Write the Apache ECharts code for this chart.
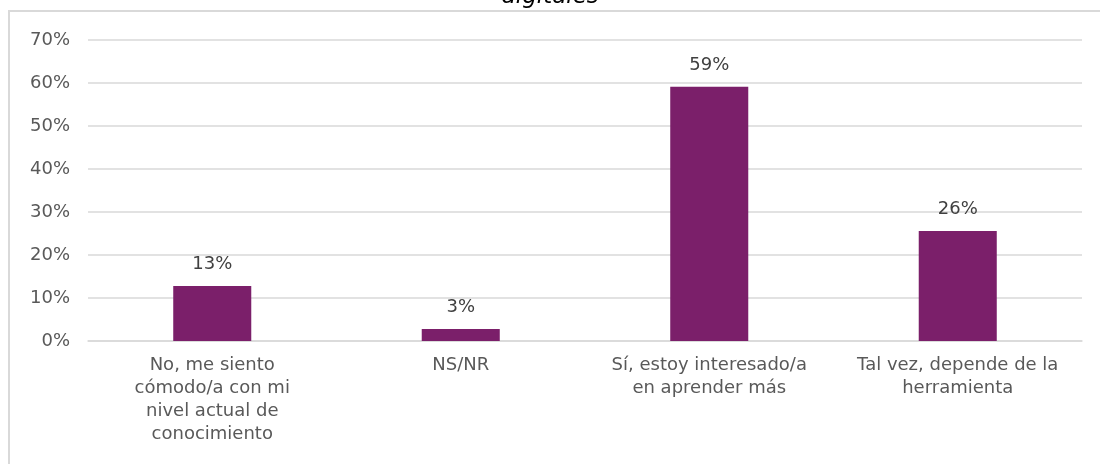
<!DOCTYPE html>
<html>
<head>
<meta charset="utf-8">
<script src="https://cdn.jsdelivr.net/npm/echarts@6/dist/echarts.min.js"></script>
<style>
html,body{margin:0;padding:0;background:#fff;overflow:hidden;}
#wrap{position:relative;width:1100px;height:464px;overflow:hidden;}
#chart{width:1100px;height:464px;}
#frame{position:absolute;left:8px;top:10px;width:1200px;height:600px;border-left:2px solid #d9d9d9;border-top:2px solid #d9d9d9;pointer-events:none;}
</style>
</head>
<body>
<div id="wrap">
<div id="chart"></div>
<div id="frame"></div>
</div>
<script>
const categories = [
  "No, me siento\ncómodo/a con mi\nnivel actual de\nconocimiento",
  "NS/NR",
  "Sí, estoy interesado/a\nen aprender más",
  "Tal vez, depende de la\nherramienta"
];
const values = [12.8, 2.8, 59.1, 25.6];
const yTicks = { min: 0, max: 70, interval: 10 };
const titleTail = "digitales";

const chart = echarts.init(document.getElementById('chart'), null, { renderer: 'canvas' });
const FONT = '"DejaVu Sans", sans-serif';
chart.setOption({
  backgroundColor: '#ffffff',
  animation: false,
  graphic: [
    { type: 'text', left: 'center', top: -14, style: { text: titleTail, fontFamily: FONT, fontStyle: 'italic', fontSize: 23, fill: '#000000' } }
  ],
  grid: { left: 88, right: 18, top: 40, bottom: 123, containLabel: false },
  xAxis: {
    type: 'category',
    data: categories,
    axisLine: { lineStyle: { color: '#d9d9d9', width: 1.5 } },
    axisTick: { show: false },
    axisLabel: { color: '#595959', fontSize: 18, fontFamily: FONT, lineHeight: 23, margin: 13, interval: 0 }
  },
  yAxis: {
    type: 'value',
    min: yTicks.min, max: yTicks.max, interval: yTicks.interval,
    axisLine: { show: false },
    axisTick: { show: false },
    axisLabel: { color: '#595959', fontSize: 18, fontFamily: FONT, margin: 18, formatter: v => v + '%' },
    splitLine: { lineStyle: { color: '#d9d9d9', width: 1.5 } }
  },
  series: [{
    type: 'bar',
    data: values,
    barWidth: '31.4%',
    itemStyle: { color: '#7b1f6a' },
    label: {
      show: true, position: 'top', distance: 13,
      color: '#404040', fontSize: 18, fontFamily: FONT,
      formatter: p => Math.round(p.value) + '%'
    }
  }]
});
</script>
</body>
</html>
